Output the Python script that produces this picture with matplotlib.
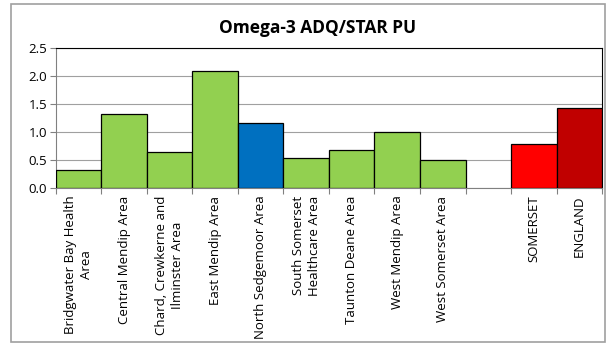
import matplotlib
matplotlib.use('Agg')
import matplotlib.pyplot as plt
import numpy as np
from matplotlib.patches import Rectangle

plt.rcParams['font.family'] = ['Open Sans', 'DejaVu Sans']

labels = ['Bridgwater Bay Health\nArea', 'Central Mendip Area', 'Chard, Crewkerne and\nIlminster Area',
          'East Mendip Area', 'North Sedgemoor Area', 'South Somerset\nHealthcare Area',
          'Taunton Deane Area', 'West Mendip Area', 'West Somerset Area', '',
          'SOMERSET', 'ENGLAND']
values = [0.33, 1.33, 0.65, 2.09, 1.17, 0.54, 0.68, 1.00, 0.50, 0.0, 0.80, 1.43]
colors = ['#92D050'] * 4 + ['#0070C0'] + ['#92D050'] * 4 + ['none', '#FF0000', '#C00000']

fig = plt.figure(figsize=(6.16, 3.44), dpi=100)
fig.patches.append(Rectangle((11/616, 2/344), 594/616, 338/344, transform=fig.transFigure,
                             fill=False, edgecolor='#a0a0a0', linewidth=1.2))
ax = fig.add_axes([0.0904, 0.4526, 0.8872, 0.407])

x = np.arange(len(values))
bars = ax.bar(x, values, width=1.0, color=colors, edgecolor='black', linewidth=0.9, zorder=3)
# blank slot should show no outline
bars[9].set_edgecolor('none')

ax.set_xlim(-0.5, len(values) - 0.5)
ax.set_ylim(0, 2.5)
yt = np.arange(0, 2.51, 0.5)
ax.set_yticks(yt)
ax.set_yticklabels(['%.1f' % v for v in yt], fontsize=9.5)
ax.yaxis.grid(True, color='#a0a0a0', linewidth=0.8, zorder=0)
ax.tick_params(axis='y', length=4, color='#808080', pad=2)

ax.set_xticks(np.arange(-0.5, len(values) + 0.5, 1.0))
ax.set_xticklabels([])
ax.tick_params(axis='x', length=4, color='#808080')
for xi, lab in zip(x, labels):
    ax.text(xi, -0.13, lab, rotation=90, ha='center', va='top', multialignment='center',
            fontsize=9.5, linespacing=1.3)

for s in ['top', 'right']:
    ax.spines[s].set_color('black')
ax.spines['left'].set_color('#808080')
ax.spines['bottom'].set_color('#808080')

fig.text(0.515, 0.918, 'Omega-3 ADQ/STAR PU', ha='center', va='center', fontsize=12.5, fontweight='bold')

fig.savefig('out.png', dpi=100)
